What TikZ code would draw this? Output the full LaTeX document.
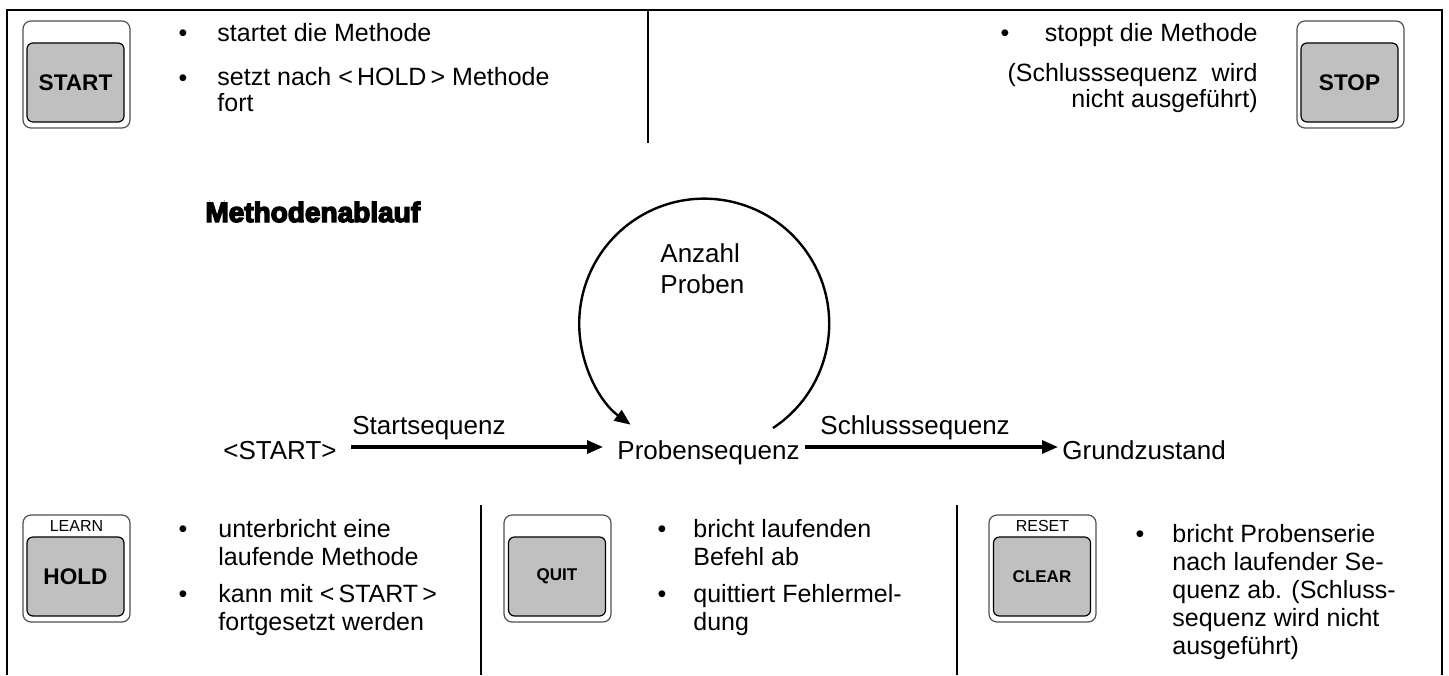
\documentclass[tikz,border=0pt]{standalone}
\usepackage{fontspec}
\setmainfont{Liberation Sans}
\newfontfamily\heavyfont{Liberation Sans}[FakeBold=5]
\usetikzlibrary{arrows.meta, positioning}
\definecolor{keygrey}{HTML}{C0C0C0}
\definecolor{keyedge}{HTML}{505050}

\begin{document}
\begin{tikzpicture}[x=0.5pt, y=-0.5pt,
  frame/.style={line width=1.3pt},
  keyframe/.style={draw=keyedge, line width=0.6pt, rounded corners=4pt,
    minimum width=53.5pt, minimum height=53.5pt},
  keyface/.style={draw, line width=0.6pt, fill=keygrey, rounded corners=3pt,
    minimum width=48.5pt, minimum height=39.5pt, inner sep=0pt},
  bigkey/.style={keyface, font=\bfseries\fontsize{11.3}{13}\selectfont},
  smallkey/.style={keyface, font=\bfseries\fontsize{8.5}{10}\selectfont},
  keytag/.style={inner sep=0pt, font=\fontsize{8}{9}\selectfont},
  dot/.style={anchor=base, inner sep=0pt, font=\fontsize{12.5}{14}\selectfont},
  note/.style={anchor=base west, align=left, inner sep=0pt,
    font=\fontsize{12.5}{14}\selectfont},
  topnote/.style={font=\fontsize{12.5}{12.7}\selectfont},
  state/.style={anchor=base west, inner sep=0pt, font=\fontsize{13}{15.5}\selectfont},
  heading/.style={anchor=base west, inner sep=0pt,
    font=\heavyfont\bfseries\fontsize{14}{16}\selectfont},
  flow/.style={-{Triangle[length=8pt, width=6.5pt]}, line width=1.6pt},
  repeatarc/.style={-{Triangle[length=8pt, width=6.5pt]}, line width=1.2pt}]
  \useasboundingbox (0,0) rectangle (1449,675);

  % frame and dividers
  \draw[frame] (7,675) -- (7,10) -- (1442,10) -- (1442,675);
  \draw[frame] (648,10) -- (648,143);
  \draw[frame] (481,505) -- (481,675);
  \draw[frame] (957,505) -- (957,675);

  % keys
  \node[keyframe] (startkey) at (76.5,74.5) {};
  \node[bigkey] (startface) at (75.5,82.5) {START};
  \node[keyframe] (stopkey) at (1350.5,74.5) {};
  \node[bigkey] (stopface) at (1349.5,82.5) {STOP};
  \node[keyframe] (holdkey) at (76.5,568.5) {};
  \node[bigkey] (holdface) at (75.5,576.5) {HOLD};
  \node[keytag] (learn) at (76.5,526) {LEARN};
  \node[keyframe] (quitkey) at (557.5,568.5) {};
  \node[smallkey] (quitface) at (557,576.5) {QUIT};
  \node[keyframe] (clearkey) at (1042.5,568.5) {};
  \node[smallkey] (clearface) at (1042,576.5) {CLEAR};
  \node[keytag] (reset) at (1042.5,526) {RESET};

  % key texts (multi-line nodes sit on their last line)
  \node[dot] (startdot1) at (183,41) {\textbullet};
  \node[note] (starttext1) at (217,41) {startet die Methode};
  \node[dot] (startdot2) at (183,86) {\textbullet};
  \node[note, topnote] (starttext2) at (217,111) {setzt nach <\,HOLD\,> Methode\\fort};
  \node[dot] (stopdot) at (1005,41) {\textbullet};
  \node[note, anchor=base east] (stoptext1) at (1258,41) {stoppt die Methode};
  \node[note, topnote, anchor=base east, align=right] (stoptext2) at (1258,107)
    {(Schlusssequenz\ \ wird\\nicht ausgeführt)};
  \node[dot] (holddot1) at (183,537) {\textbullet};
  \node[note] (holdtext1) at (218,565) {unterbricht eine\\laufende Methode};
  \node[dot] (holddot2) at (183,602) {\textbullet};
  \node[note] (holdtext2) at (218,630) {kann mit <\,START\,>\\fortgesetzt werden};
  \node[dot] (quitdot1) at (662,537) {\textbullet};
  \node[note] (quittext1) at (693,565) {bricht laufenden\\Befehl ab};
  \node[dot] (quitdot2) at (662,602) {\textbullet};
  \node[note] (quittext2) at (693,630) {quittiert Fehlermel-\\dung};
  \node[dot] (cleardot) at (1140,542) {\textbullet};
  \node[note] (cleartext) at (1172,654) {bricht Probenserie\\nach laufender Se-\\quenz ab.
    (Schluss-\\sequenz wird nicht\\ausgeführt)};

  % Methodenablauf
  \node[heading] (title) at (205,222) {Methodenablauf};
  \node[state] (start) at (223,459) {<START>};
  \node[state] (probe) at (617,459) {Probensequenz};
  \node[state] (ground) at (1062,459) {Grundzustand};
  \node[state] (startseq) at (352,434) {Startsequenz};
  \node[state] (endseq) at (820,434) {Schlusssequenz};
  \node[state, align=left] (count) at (660,293) {Anzahl\\Proben};
  \coordinate (loopstart) at (773,428);

  \draw[flow] ([xshift=7pt, yshift=6pt]start.base east)
    -- ([xshift=-7pt, yshift=6pt]probe.base west);
  \draw[flow] ([xshift=2.5pt, yshift=6pt]probe.base east)
    -- ([xshift=-2pt, yshift=6pt]ground.base west);
  \draw[repeatarc] (loopstart) arc[start angle=56.6, end angle=-233.9, radius=125];
\end{tikzpicture}
\end{document}
